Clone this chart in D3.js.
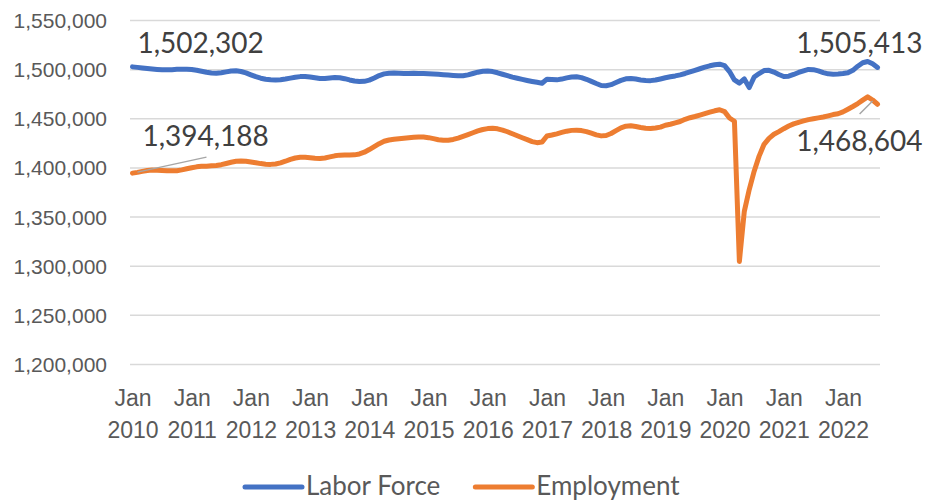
<!DOCTYPE html>
<html>
<head>
<meta charset="utf-8">
<title>Labor Force and Employment</title>
<script src="https://d3js.org/d3.v7.min.js"></script>
<style>
    body { margin: 0; background: #fff; }
    #chart { display: block; font-family: Lato, sans-serif; }
    .grid line { stroke: #d9d9d9; stroke-width: 1.5; }
    .tick text { fill: #595959; }
    .series { fill: none; stroke-width: 5; stroke-linejoin: round; stroke-linecap: round; }
    .data-label { fill: #404040; font-size: 28px; }
    .leader { stroke: #a6a6a6; stroke-width: 1.5; }
</style>
</head>
<body>
<svg id="chart" width="940" height="502"></svg>
<script>
// tick labels
const years = ["2010", "2011", "2012", "2013", "2014", "2015", "2016", "2017", "2018", "2019", "2020", "2021", "2022"];
const monthNames = ["Jan", "Feb", "Mar", "Apr", "May", "Jun", "Jul", "Aug", "Sep", "Oct", "Nov", "Dec"];
const yTicks = [1200000, 1250000, 1300000, 1350000, 1400000, 1450000, 1500000, 1550000];

// monthly values, Jan 2010 .. Aug 2022
const laborForce = [
    1502302, 1501800, 1501200, 1500600, 1500100, 1499700, 1499400, 1499300, 1499500, 1499800, 1500000, 1500000,
    1499600, 1498800, 1497800, 1496800, 1496100, 1495900, 1496300, 1497200, 1498100, 1498300, 1497600, 1496200,
    1494200, 1492300, 1490800, 1489700, 1489100, 1489000, 1489300, 1490000, 1490900, 1491800, 1492400, 1492500,
    1492000, 1491200, 1490500, 1490400, 1490900, 1491500, 1491300, 1490300, 1489000, 1487900, 1487400, 1487600,
    1488800, 1491000, 1493500, 1495200, 1495900, 1496000, 1495800, 1495600, 1495600, 1495700, 1495600, 1495500,
    1495300, 1495100, 1494800, 1494400, 1494000, 1493600, 1493200, 1493300, 1494200, 1495600, 1496900, 1497800,
    1498100, 1497500, 1496300, 1494800, 1493300, 1491900, 1490700, 1489600, 1488500, 1487500, 1486600, 1485700,
    1489800, 1489500, 1489100, 1489900, 1491100, 1492000, 1492200, 1491400, 1489700, 1487600, 1485400, 1483400,
    1483100, 1484200, 1486400, 1488600, 1490200, 1490500, 1489900, 1489000, 1488400, 1488300, 1488900, 1490000,
    1491200, 1492200, 1493100, 1494200, 1495600, 1497200, 1498800, 1500400, 1502000, 1503400, 1504400, 1505000,
    1503500, 1497500, 1489000, 1485700, 1490000, 1481300, 1492000, 1495500, 1498500, 1498800, 1497000, 1494500,
    1492500, 1492800, 1494600, 1496600, 1498300, 1499700, 1499500, 1498200, 1496500, 1495200, 1494900, 1495100,
    1495500, 1496300, 1498800, 1503000, 1506500, 1507800, 1505413, 1501700
];
const employment = [
    1394188, 1395000, 1396000, 1396800, 1397300, 1397200, 1396900, 1396600, 1396500, 1396700, 1397500, 1398600,
    1399700, 1400600, 1401100, 1401300, 1401600, 1402000, 1402800, 1404000, 1405300, 1406200, 1406500, 1406300,
    1405600, 1404700, 1403900, 1403300, 1403100, 1403500, 1404600, 1406300, 1408200, 1409600, 1410300, 1410300,
    1409900, 1409400, 1409200, 1409600, 1410700, 1411800, 1412500, 1412700, 1412600, 1412800, 1413700, 1415500,
    1418200, 1421200, 1424200, 1426600, 1427900, 1428600, 1429100, 1429600, 1430100, 1430600, 1431000, 1430900,
    1430300, 1429300, 1428200, 1427600, 1427700, 1428500, 1429900, 1431600, 1433400, 1435300, 1437100, 1438600,
    1439500, 1439800, 1439300, 1438000, 1436300, 1434300, 1432200, 1430200, 1428300, 1426300, 1425200, 1425800,
    1432000, 1433000, 1434200, 1435600, 1436900, 1437700, 1437900, 1437500, 1436400, 1434800, 1433100, 1432100,
    1432500, 1434500, 1437400, 1440300, 1442000, 1442300, 1441700, 1440700, 1439900, 1439700, 1440100, 1441000,
    1442900, 1443900, 1445300, 1446700, 1449000, 1450600, 1451800, 1453200, 1454700, 1456200, 1457600, 1458700,
    1456800, 1450300, 1447000, 1304400, 1355300, 1377500, 1396200, 1411500, 1423500, 1429600, 1433700, 1436400,
    1439400, 1442100, 1444300, 1445900, 1447300, 1448600, 1449500, 1450400, 1451300, 1452500, 1453800, 1454600,
    1456500, 1459200, 1462000, 1465000, 1468500, 1471800, 1468604, 1464300
];

// categories "Jan 2010" ...
const categories = [];
years.forEach(y => monthNames.forEach(m => categories.push(m + " " + y)));
categories.length = laborForce.length;

const series = [
    {name: "Labor Force", values: laborForce, color: "#4472C4"},
    {name: "Employment", values: employment, color: "#ED7D31"}
];

const plotLeft = 130, plotRight = 880, plotTop = 20, plotBottom = 364;

const x = d3.scalePoint()
    .domain(categories)
    .range([plotLeft, plotRight])
    .padding(0.5);

const y = d3.scaleLinear()
    .domain([1200000, 1550000])
    .range([plotBottom, plotTop]);

const svg = d3.select("#chart");

// y axis + gridlines
const yAxis = svg.append("g")
    .attr("class", "grid")
    .attr("transform", `translate(${plotLeft},0)`)
    .call(d3.axisLeft(y)
        .tickValues(yTicks)
        .tickFormat(d3.format(","))
        .tickSize(-(plotRight - plotLeft))
        .tickPadding(23));
yAxis.select(".domain").remove();
yAxis.selectAll("text").style("font-size", "21px").attr("dy", "0.36em");

// x axis, two line labels on each January
const xAxis = svg.append("g")
    .attr("transform", `translate(0,${plotBottom})`)
    .call(d3.axisBottom(x)
        .tickValues(categories.filter(c => c.startsWith("Jan")))
        .tickSize(0)
        .tickFormat(""));
xAxis.select(".domain").remove();
xAxis.selectAll(".tick text").remove();
xAxis.selectAll(".tick").append("text")
    .attr("text-anchor", "middle")
    .style("font-size", "23px")
    .style("fill", "#595959")
    .each(function(d) {
        const parts = d.split(" ");
        const t = d3.select(this);
        t.append("tspan").attr("x", 0).attr("y", 42).text(parts[0]);
        t.append("tspan").attr("x", 0).attr("y", 74).text(parts[1]);
    });

// lines
const line = values => d3.line()
    .x((d, i) => x(categories[i]))
    .y(d => y(d))(values);

svg.selectAll("path.series")
    .data(series)
    .enter().append("path")
        .attr("class", "series")
        .attr("stroke", d => d.color)
        .attr("d", d => line(d.values));

// data labels
const fmt = d3.format(",");
const labels = [
    {values: laborForce, i: 0, dx: 5, dy: -14, anchor: "start"},
    {values: employment, i: 0, dx: 10, dy: -27, anchor: "start", leader: [5, -1, 74, -16]},
    {values: laborForce, i: 150, dx: 50, dy: -11, anchor: "end"},
    {values: employment, i: 150, dx: 50, dy: 51, anchor: "end", leader: [0, 1, -13, 14]}
];
labels.forEach(l => {
    const px = x(categories[l.i]), py = y(l.values[l.i]);
    if (l.leader) {
        svg.append("line")
            .attr("class", "leader")
            .attr("x1", px + l.leader[0]).attr("y1", py + l.leader[1])
            .attr("x2", px + l.leader[2]).attr("y2", py + l.leader[3]);
    }
    svg.append("text")
        .attr("class", "data-label")
        .attr("x", px + l.dx)
        .attr("y", py + l.dy)
        .attr("text-anchor", l.anchor)
        .text(fmt(l.values[l.i]));
});

// legend (kept just inside the bottom edge)
const legend = svg.append("g").attr("transform", "translate(245,487)");
let lx = 0;
series.forEach(s => {
    const g = legend.append("g").attr("transform", `translate(${lx},0)`);
    g.append("line")
        .attr("x1", 0).attr("x2", 57)
        .attr("stroke", s.color)
        .attr("stroke-width", 5)
        .attr("stroke-linecap", "round");
    const t = g.append("text")
        .attr("x", 61)
        .attr("y", 8)
        .style("font-size", "26px")
        .style("fill", "#595959")
        .text(s.name);
    lx += 61 + t.node().getComputedTextLength() + 35;
});
</script>
</body>
</html>
